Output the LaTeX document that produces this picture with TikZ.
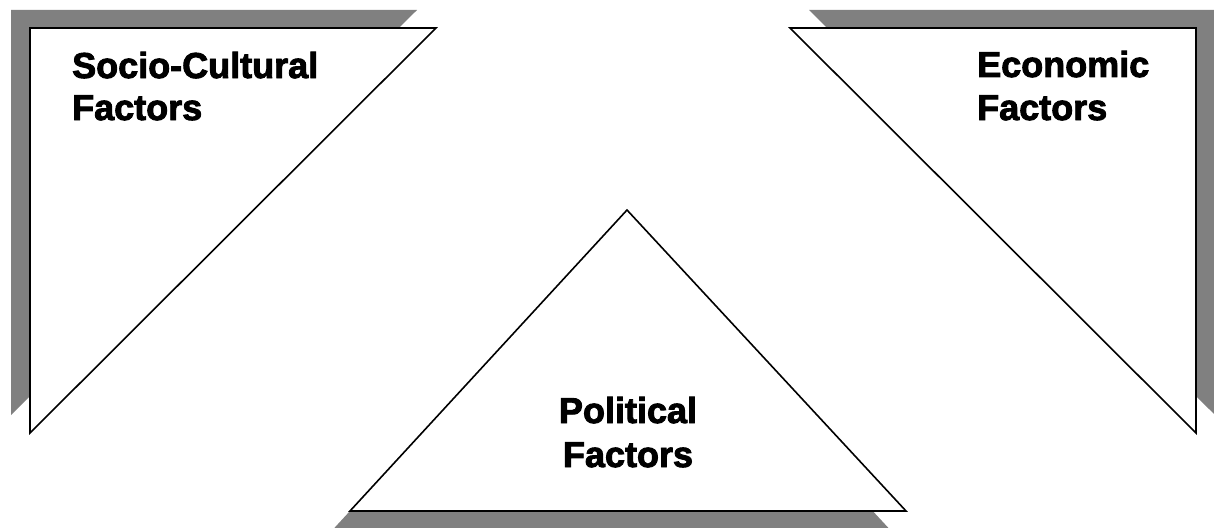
\documentclass[tikz,border=0pt]{standalone}
\usepackage{fontspec}
\setmainfont{Liberation Sans}
% heavier face for the labels
\newfontfamily\heavyface{Liberation Sans Bold}[FakeBold=2.5]
\begin{document}
\begin{tikzpicture}[x=1pt,y=-1pt,
  shadowfill/.style={fill=shadowgray,draw=none},
  panel/.style={fill=white,draw=black,line width=1.6pt,line join=miter},
  label/.style={font=\heavyface\fontsize{36}{43}\selectfont,inner sep=0pt}]
\definecolor{shadowgray}{HTML}{808080}
\useasboundingbox (0,0) rectangle (1214,527);
\clip (0,0) rectangle (1214,527);

% drop shadows
\fill[shadowfill] (11,10) -- (417,10) -- (11,415) -- cycle;
\fill[shadowfill] (809,10) -- (1215,10) -- (1215,415) -- cycle;
\fill[shadowfill] (610.4,228) -- (333.4,529) -- (889.4,529) -- cycle;

% left panel: socio-cultural
\draw[panel] (30,28) -- (436,28) -- (30,433) -- cycle;
% right panel: economic
\draw[panel] (790,28) -- (1196,28) -- (1196,433) -- cycle;
% bottom panel: political
\draw[panel] (627,210) -- (906,511) -- (350,511) -- cycle;

\node[label,anchor=base west] (sc1) at (72,78) {Socio-Cultural};
\node[label,anchor=base west] (sc2) at (72,120) {Factors};
\node[label,anchor=base west] (ec1) at (977,77) {Economic};
\node[label,anchor=base west] (ec2) at (977,120) {Factors};
\node[label,anchor=base] (po1) at (628,423) {Political};
\node[label,anchor=base] (po2) at (628,467) {Factors};
\end{tikzpicture}
\end{document}
